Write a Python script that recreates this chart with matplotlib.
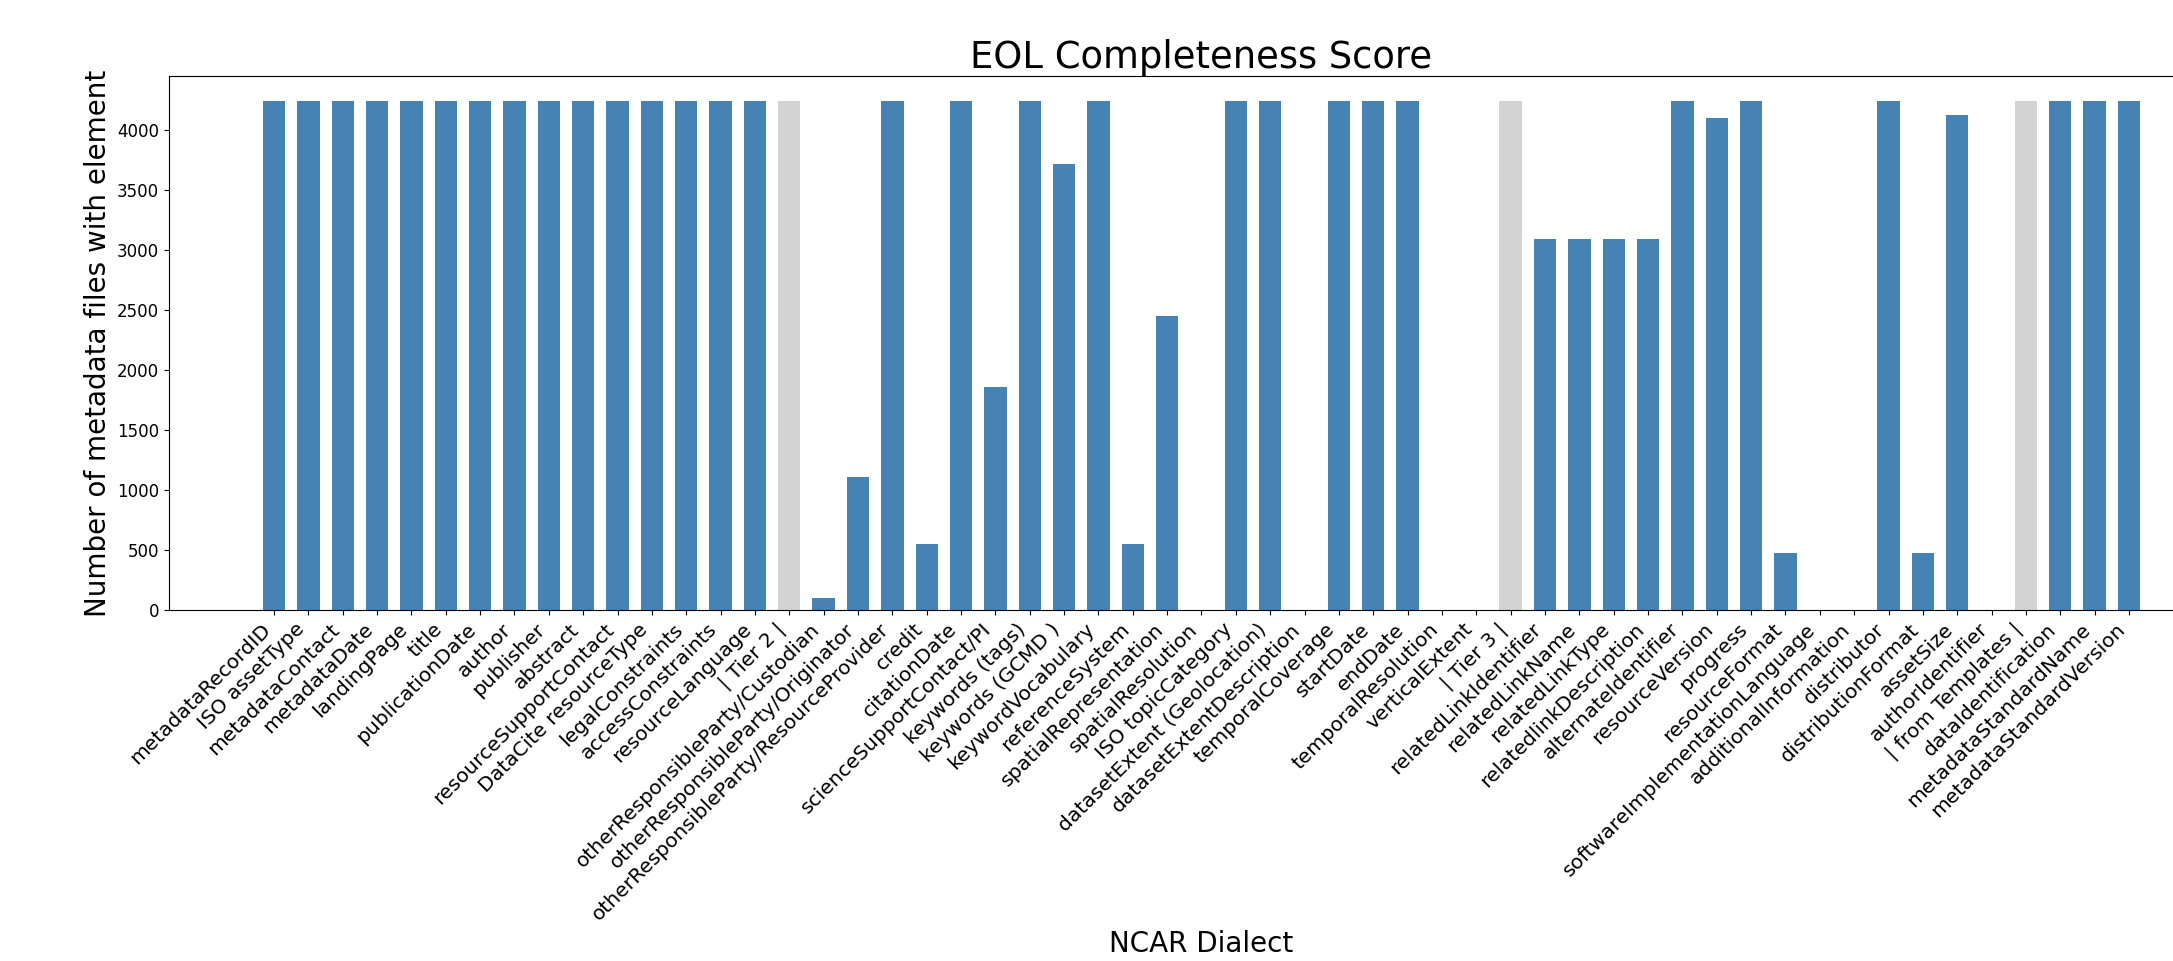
import matplotlib
matplotlib.use("Agg")
import matplotlib.pyplot as plt

categories = [
    "metadataRecordID", "ISO assetType", "metadataContact", "metadataDate",
    "landingPage", "title", "publicationDate", "author", "publisher", "abstract",
    "resourceSupportContact", "DataCite resourceType", "legalConstraints",
    "accessConstraints", "resourceLanguage", "| Tier 2 |",
    "otherResponsibleParty/Custodian", "otherResponsibleParty/Originator",
    "otherResponsibleParty/ResourceProvider", "credit", "citationDate",
    "scienceSupportContact/PI", "keywords (tags)", "keywords (GCMD )",
    "keywordVocabulary", "referenceSystem", "spatialRepresentation",
    "spatialResolution", "ISO topicCategory", "datasetExtent (Geolocation)",
    "datasetExtentDescription", "temporalCoverage", "startDate", "endDate",
    "temporalResolution", "verticalExtent", "| Tier 3 |",
    "relatedLinkIdentifier", "relatedLinkName", "relatedLinkType",
    "relatedlinkDescription", "alternateIdentifier", "resourceVersion",
    "progress", "resourceFormat", "softwareImplementationLanguage",
    "additionalInformation", "distributor", "distributionFormat", "assetSize",
    "authorIdentifier", "| from Templates |", "dataIdentification",
    "metadataStandardName", "metadataStandardVersion",
]

counts = [
    4240, 4240, 4240, 4240, 4240, 4240, 4240, 4240, 4240, 4240,
    4240, 4240, 4240, 4240, 4240, 4240,
    100, 1110, 4240, 548, 4240,
    1857, 4240, 3715,
    4240, 548, 2449,
    0, 4240, 4240,
    0, 4240, 4240, 4240,
    0, 0, 4240,
    3091, 3091, 3091,
    3091, 4240, 4105,
    4240, 472, 0,
    0, 4240, 472, 4130,
    0, 4240, 4240,
    4240, 4240,
]

separators = ["| Tier 2 |", "| Tier 3 |", "| from Templates |"]
colors = ["lightgray" if c in separators else "steelblue" for c in categories]

fig = plt.figure(figsize=(21.73, 9.61), dpi=100)
ax = fig.add_axes([169 / 2173, 1 - 610 / 961, 2065 / 2173, (610 - 76) / 961])

x = list(range(len(categories)))
ax.bar(x, counts, width=0.65, color=colors)
ax.set_xticks(x)
ax.set_xticklabels(categories, rotation=45, ha="right", fontsize=14.6)
ax.tick_params(axis="y", labelsize=12)
ax.set_xlabel("NCAR Dialect", fontsize=20)
ax.set_ylabel("Number of metadata files with element", fontsize=20)
ax.set_title("EOL Completeness Score", fontsize=26.6)

fig.savefig("out.png", dpi=100)
